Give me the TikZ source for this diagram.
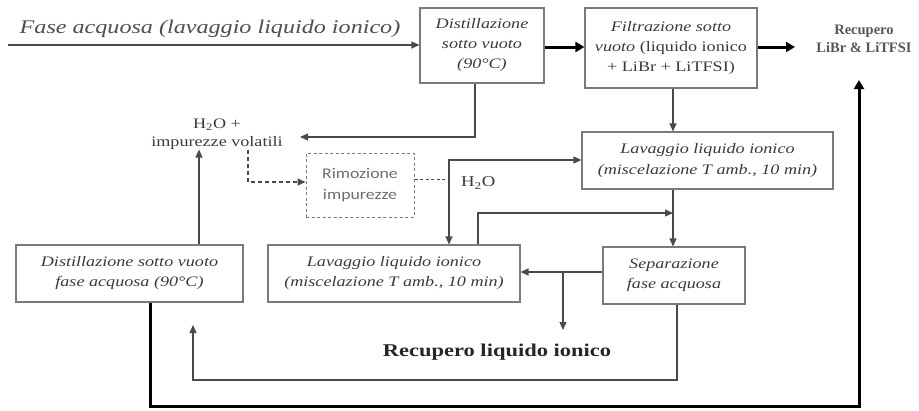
\documentclass[tikz,border=0pt]{standalone}
\usepackage{fontspec}
\setmainfont{Liberation Serif}[FakeStretch=1.25]
\newfontfamily\plainserif{Liberation Serif}
\newfontfamily\rimfont{Carlito}[FakeStretch=1.2]
\usetikzlibrary{arrows.meta}
\definecolor{txt}{HTML}{3A3A3A}
\definecolor{ln}{HTML}{4A4A4A}
\definecolor{bx}{HTML}{7A7A7A}
\tikzset{
  procbox/.style={draw=bx,line width=1.1pt,align=center,inner sep=0pt,text=txt,
    font=\fontsize{14.5}{20}\selectfont\itshape},
  thinar/.style={draw=ln,line width=1.2pt,-{Triangle[length=8pt,width=7pt]}},
  thinln/.style={draw=ln,line width=1.2pt},
  thickar/.style={draw=black,line width=3pt,-{Triangle[length=9pt,width=10pt]}},
  dashln/.style={draw=ln,line width=1.1pt,dash pattern=on 4pt off 3pt},
  lbl/.style={text=txt,align=center,inner sep=0pt,font=\fontsize{14.5}{18}\selectfont}
}
\begin{document}
\begin{tikzpicture}[x=1pt,y=-1pt]
\useasboundingbox (0,0) rectangle (919,410);
% boxes
\node[procbox,minimum width=124pt,minimum height=75pt] (b1) at (482,45.5)
  {Distillazione\\sotto vuoto\\(90°C)};
\node[procbox,minimum width=172pt,minimum height=80pt] (b2) at (671,48)
  {Filtrazione sotto\\vuoto {\upshape (liquido ionico}\\{\upshape + LiBr + LiTFSI)}};
\node[procbox,minimum width=251pt,minimum height=57pt,font=\fontsize{14.5}{21}\selectfont\itshape] (l1) at (707.5,160.5)
  {Lavaggio liquido ionico\\(miscelazione T amb., 10 min)};
\node[procbox,minimum width=142pt,minimum height=57pt] (sep) at (674,275.5)
  {Separazione\\fase acquosa};
\node[procbox,minimum width=252pt,minimum height=57pt] (l2) at (394,273.5)
  {Lavaggio liquido ionico\\(miscelazione T amb., 10 min)};
\node[procbox,minimum width=227pt,minimum height=57pt] (d2) at (129.5,273.5)
  {Distillazione sotto vuoto\\fase acquosa (90°C)};
\node[draw=bx,line width=1pt,dash pattern=on 3pt off 2.5pt,minimum width=108pt,minimum height=64pt,
  align=center,inner sep=0pt,text=bx!90!black,font=\fontsize{14.8}{21}\selectfont\rimfont] (rim) at (360,185)
  {Rimozione\\impurezze};
% labels
\node[text=txt!90!white,anchor=base,inner sep=0pt,font=\fontsize{19.3}{22}\selectfont\itshape] (fase) at (210,33)
  {Fase acquosa (lavaggio liquido ionico)};
\node[lbl] (hi) at (217,134) {H\textsubscript{2}O +\\impurezze volatili};
\node[lbl,anchor=west,font=\fontsize{15}{18}\selectfont] (h2o) at (461,183) {H\textsubscript{2}O};
\node[lbl,text=txt!85!white,font=\fontsize{14.5}{18}\selectfont\plainserif\bfseries] (reclib) at (864,39) {Recupero\\LiBr \& LiTFSI};
\node[text=black!85,inner sep=0pt,font=\fontsize{18}{20}\selectfont\bfseries] (recli) at (497,352)
  {Recupero liquido ionico};
% coordinates
\coordinate (in) at (8,45);
\coordinate (rl) at (795,47);
\coordinate (hv) at (300,137);
\coordinate (jn) at (449,160);
\coordinate (sp) at (563,272);
\coordinate (rlout) at (563,330);
\coordinate (retend) at (193,325);
\coordinate (thend) at (859,80);
% connectors
\draw[thinar] (in) -- (b1.west |- in);
\draw[thickar] (b1.east |- 0,47) -- (b2.west |- 0,47);
\draw[thickar] (b2.east |- rl) -- (rl);
\draw[thinar] (b2.south -| 673,0) -- (l1.north -| 673,0);
\draw[thinar] (b1.south -| 475,0) |- (hv);
\draw[thinar] (d2.north -| 199,0) -- (hi.south -| 199,0);
\draw[dashln,-{Triangle[length=8pt,width=7pt]}] (hi.south -| 248,0) |- (rim.west |- 0,182);
\draw[dashln,dash pattern=on 3pt off 2.5pt,line width=0.9pt] (rim.east |- 0,179) -- (jn |- 0,179);
\draw[thinln,{Triangle[length=8pt,width=7pt]}-{Triangle[length=8pt,width=7pt]}]
  (l2.north -| jn) -- (jn) -- (l1.west |- jn);
\draw[thinar] (l1.south -| 673,0) -- (sep.north -| 673,0);
\draw[thinar] (l2.north -| 478,0) |- (673,213);
\draw[thinar] (sep.west |- sp) -- (l2.east |- sp);
\draw[thinar] (sp) -- (rlout);
\draw[thinar] (sep.south -| 677,0) |- (193,380) -- (retend);
\draw[thickar] (d2.south -| 150,0) |- (859,406) -- (thend);
\end{tikzpicture}
\end{document}
